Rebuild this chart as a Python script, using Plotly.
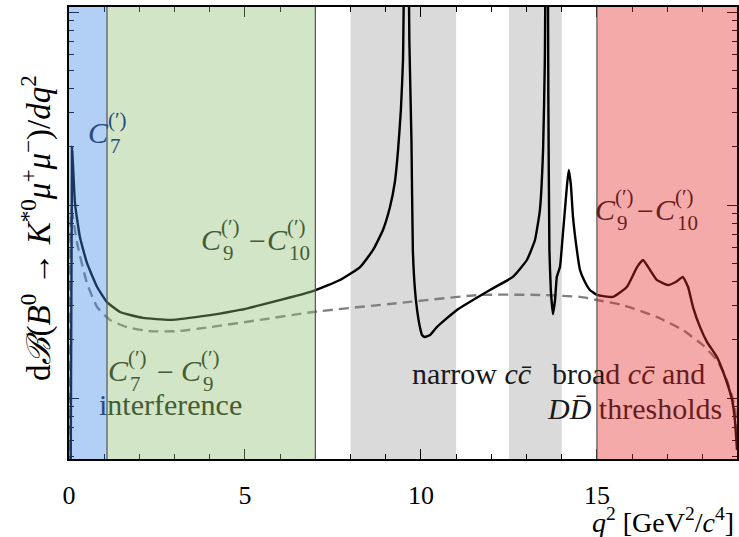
import plotly.graph_objects as go

# ---------------- data ----------------
q2_full = [0.045, 0.085, 0.17, 0.31, 0.51, 0.80, 1.08, 1.45, 2.10, 2.87, 4.01, 4.86, 5.43,
           6.93, 7.70, 8.27, 8.64, 8.92, 9.12, 9.26, 9.35, 9.43, 9.49, 9.59, 9.67, 9.73,
           9.77, 9.83, 9.89, 9.97, 10.03, 10.11, 10.26, 10.45, 11.02, 11.96, 12.61, 13.01,
           13.24, 13.38, 13.47, 13.52, 13.58, 13.62, 13.65, 13.69, 13.75, 13.81, 13.86,
           13.95, 14.03, 14.09, 14.15, 14.20, 14.26, 14.32, 14.43, 14.52, 14.66, 14.80,
           15.00, 15.45, 15.85, 16.14, 16.31, 16.51, 16.70, 17.02, 17.24, 17.44, 17.59,
           17.73, 17.93, 18.13, 18.41, 18.64, 18.84, 18.92, 18.98]
rate_full = [0.3, 20.0, 10.2, 6.83, 5.01, 3.76, 3.14, 2.79, 2.60, 2.54, 2.69, 2.86, 3.03,
             3.58, 4.09, 4.77, 5.85, 7.42, 9.76, 13.2, 19.3, 31.1, 56.4, 3000, 71.6, 21.7,
             5.85, 3.63, 2.86, 2.33, 2.12, 2.07, 2.12, 2.33, 2.86, 3.63, 4.24, 5.19,
             6.59, 9.42, 19.3, 56.4, 3000, 35.0, 5.85, 3.63, 2.72, 3.22, 4.24,
             4.77, 6.99, 9.42, 12.7, 15.2, 12.7, 8.67, 5.85, 4.60, 3.99, 3.63,
             3.42, 3.34, 3.76, 4.77, 5.19, 4.60, 4.09, 3.85, 3.99, 4.24, 3.76,
             2.96, 2.33, 1.95, 1.63, 1.285, 0.976, 0.769, 0.538]

q2_nonres = [0.045, 0.07, 0.23, 0.51, 0.80, 1.16, 1.65, 2.30, 3.07, 4.01, 5.43, 6.93, 9.40,
             11.68, 13.38, 14.52, 15.00, 15.74, 16.70, 17.44, 18.01, 18.41, 18.69, 18.92, 18.98]
rate_nonres = [0.3, 9.4, 6.36, 3.94, 2.96, 2.54, 2.33, 2.22, 2.22, 2.33, 2.54, 2.79, 3.11,
               3.42, 3.42, 3.34, 3.22, 3.03, 2.63, 2.25, 1.88, 1.57, 1.24, 0.898, 0.606]

# shaded q2 regions
gray_bands = [(8.0, 11.0), (12.5, 14.0)]
blue_band = (0.0, 1.08)
green_band = (1.08, 7.0)
red_band = (15.0, 19.2)

x_ticks = [0, 5, 10, 15]

# ---------------- figure ----------------
W, H = 739, 537
ML, MR, MT, MB = 69, 2, 7, 78
PW, PH = W - ML - MR, H - MT - MB
SERIF = "Liberation Serif, Times New Roman, serif"


def px(xp, yp):
    return (xp - ML) / PW, (MT + PH - yp) / PH


fig = go.Figure()
fig.add_trace(go.Scatter(x=q2_nonres, y=rate_nonres, mode="lines",
                         line=dict(color="rgb(128,128,128)", width=2.4, dash="10px,6px",
                                   shape="spline", smoothing=0.5),
                         hoverinfo="skip", showlegend=False))
fig.add_trace(go.Scatter(x=q2_full, y=rate_full, mode="lines",
                         line=dict(color="black", width=2.4, shape="spline", smoothing=0.4),
                         hoverinfo="skip", showlegend=False))

shapes = []
for a, b in gray_bands:
    shapes.append(dict(type="rect", xref="x", yref="paper", x0=a, x1=b, y0=0, y1=1,
                       fillcolor="#dadada", line=dict(width=0), layer="below"))
for (a, b), col in [(blue_band, "rgba(63,138,230,0.4)"),
                    (green_band, "rgba(143,190,115,0.4)"),
                    (red_band, "rgba(230,43,43,0.4)")]:
    shapes.append(dict(type="rect", xref="x", yref="paper", x0=a, x1=b, y0=0, y1=1,
                       fillcolor=col, line=dict(width=0), layer="above"))
for xv in [blue_band[1], green_band[1], red_band[0]]:
    shapes.append(dict(type="line", xref="x", yref="paper", x0=xv, x1=xv, y0=0, y1=1,
                       line=dict(color="rgb(85,85,85)", width=1.2), layer="above"))

annotations = []


def text(xp, yp, s, size, color, xanchor="center", yanchor="middle", angle=0):
    x, y = px(xp, yp)
    annotations.append(dict(x=x, y=y, xref="paper", yref="paper", text=s, showarrow=False,
                            xanchor=xanchor, yanchor=yanchor, textangle=angle,
                            font=dict(family=SERIF, size=size, color=color)))


def cterm(xc, yc, sub, color, big=30, small=21):
    text(xc, yc, "<i>C</i>", big, color)
    text(xc + 8, yc - 12, "(′)", small, color, xanchor="left")
    text(xc + 10, yc + 14, sub, small, color, xanchor="left")


BLUE_T = "rgb(40,75,125)"
GREEN_T = "rgb(70,92,52)"
RED_T = "rgb(105,28,28)"
BLACK_T = "rgb(25,25,25)"

# C7 (blue)
cterm(98, 132, "7", BLUE_T)
# C9 - C10 (green)
cterm(211, 239, "9", GREEN_T)
text(257, 240, "−", 30, GREEN_T)
cterm(277, 239, "10", GREEN_T)
# C7 - C9 interference
cterm(118, 370, "7", GREEN_T)
text(165, 371, "−", 30, GREEN_T)
cterm(191, 370, "9", GREEN_T)
text(97, 404, f"<span style='color:{BLUE_T}'>i</span>nterference", 30, GREEN_T, xanchor="left")
# red C9 - C10
cterm(605, 209, "9", RED_T)
text(645, 210, "−", 30, RED_T)
cterm(665, 209, "10", RED_T)
# narrow / broad labels
text(410, 373, "narrow <i>cc̄</i>", 30, BLACK_T, xanchor="left")
text(550, 373, f"broa<span style='color:{RED_T}'>d <i>cc̄</i> and</span>", 30, BLACK_T,
     xanchor="left")
text(545, 408, f"<i>DD̄</i> <span style='color:{RED_T}'>thresholds</span>", 30, BLACK_T,
     xanchor="left")

# axis titles
text(736, 520, "<i>q</i><sup>2</sup> [GeV<sup>2</sup>/<i>c</i><sup>4</sup>]", 28, "black",
     xanchor="right")
text(36, 228, "d<i>ℬ</i>(<i>B</i><sup>0</sup> → <i>K</i><sup>*0</sup><i>μ</i><sup>+</sup>"
     "<i>μ</i><sup>−</sup>)/<i>dq</i><sup>2</sup>", 33, "black", angle=-90)

fig.update_layout(
    width=W, height=H,
    margin=dict(l=ML, r=MR, t=MT, b=MB, autoexpand=False),
    paper_bgcolor="white", plot_bgcolor="white",
    shapes=shapes, annotations=annotations,
    xaxis=dict(range=[0, 18.98], showgrid=False, zeroline=False, automargin=False,
               showline=True, linecolor="black", linewidth=1.5, mirror="ticks",
               ticks="inside", ticklen=10, tickwidth=1.2, tickcolor="black",
               tickvals=x_ticks, ticktext=[str(v) for v in x_ticks],
               minor=dict(ticks="inside", ticklen=5, tickwidth=1.2, dtick=1, tick0=0,
                          tickcolor="black", showgrid=False),
               tickfont=dict(family=SERIF, size=26, color="black"),
               ticklabelstandoff=12),
    yaxis=dict(type="log", range=[-0.316, 2.026], showgrid=False, zeroline=False,
               automargin=False,
               showline=True, linecolor="black", linewidth=1.5, mirror="ticks",
               ticks="inside", ticklen=10, tickwidth=1.2, tickcolor="black", dtick=1,
               showticklabels=False,
               minor=dict(ticks="inside", ticklen=5, tickwidth=1.2, dtick="D1",
                          tickcolor="black", showgrid=False)),
)

fig.write_html("out.html", config={"displayModeBar": False},
               post_script="document.body.style.margin='0px';"
                           "document.body.style.overflow='hidden';")
